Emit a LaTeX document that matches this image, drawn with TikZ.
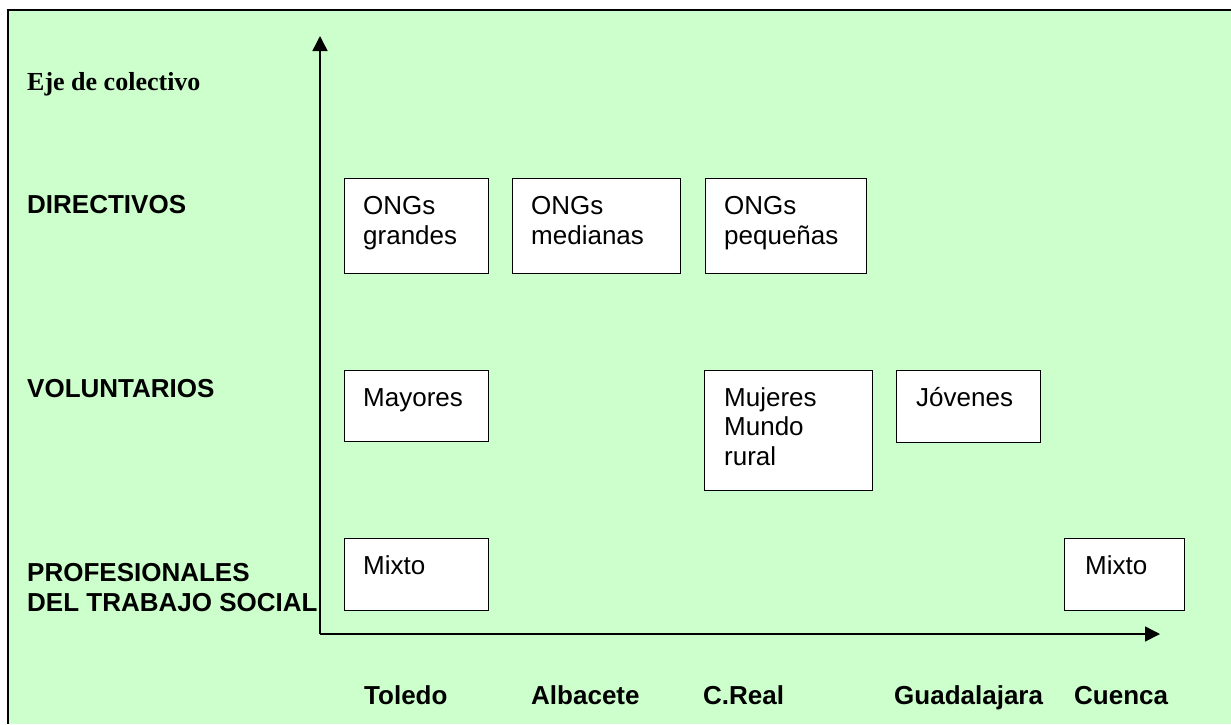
\documentclass[tikz,border=0pt]{standalone}
\usepackage{fontspec}
\setmainfont{Liberation Serif}
\setsansfont{Liberation Sans}
\usetikzlibrary{arrows.meta,calc}
\definecolor{verdefondo}{RGB}{204,255,204}
\begin{document}
\begin{tikzpicture}[x=1pt,y=-1pt,
  caja/.style={draw=black,fill=white,line width=1.3pt,inner sep=0pt,anchor=north west},
  texto/.style={anchor=base west,inner sep=0pt,align=left,font=\sffamily\fontsize{26}{29.5}\selectfont},
  rotulo/.style={anchor=base west,inner sep=0pt,align=left,font=\sffamily\bfseries\fontsize{26}{29.5}\selectfont},
  eje/.style={line width=1.5pt,-{Triangle[width=15pt,length=15pt]}}]
\useasboundingbox (0,0) rectangle (1231,724);
% fondo y marco
\fill [verdefondo] (8,10) rectangle (1231,724);
\draw [line width=2pt] (8,724) -- (8,10) -- (1231,10);
% ejes
\coordinate (origen) at (320,634);
\coordinate (arriba) at (320,36);
\coordinate (derecha) at (1160,634);
\draw [eje] (origen) -- (arriba);
\draw [eje] (origen) -- (derecha);
% colectivos (base = ultima linea)
\node [anchor=base west,inner sep=0pt,font=\rmfamily\bfseries\fontsize{26}{30}\selectfont] (ejecol) at (27,90) {Eje de colectivo};
\node [rotulo] (directivos) at (27,213) {DIRECTIVOS};
\node [rotulo] (voluntarios) at (27,397) {VOLUNTARIOS};
\node [rotulo] (profesionales) at (27,611) {PROFESIONALES\\DEL TRABAJO SOCIAL};
% provincias
\node [rotulo] (toledo) at (364,704) {Toledo};
\node [rotulo] (albacete) at (531,704) {Albacete};
\node [rotulo] (creal) at (703,704) {C.Real};
\node [rotulo] (guadalajara) at (894,704) {Guadalajara};
\node [rotulo] (cuenca) at (1074,704) {Cuenca};
% cajas
\node [caja,minimum width=144pt,minimum height=95pt] (grandes) at (344,178) {};
\node [caja,minimum width=168pt,minimum height=95pt] (medianas) at (512,178) {};
\node [caja,minimum width=161pt,minimum height=95pt] (pequenas) at (705,178) {};
\node [caja,minimum width=144pt,minimum height=71pt] (mayores) at (344,370) {};
\node [caja,minimum width=168pt,minimum height=120pt] (mujeres) at (704,370) {};
\node [caja,minimum width=144pt,minimum height=72pt] (jovenes) at (896,370) {};
\node [caja,minimum width=144pt,minimum height=72pt] (mixtoa) at (344,538) {};
\node [caja,minimum width=120pt,minimum height=72pt] (mixtob) at (1064,538) {};
\node [texto] (tgrandes) at ($(grandes.north west)+(19,66)$) {ONGs\\grandes};
\node [texto] (tmedianas) at ($(medianas.north west)+(19,66)$) {ONGs\\medianas};
\node [texto] (tpequenas) at ($(pequenas.north west)+(19,66)$) {ONGs\\pequeñas};
\node [texto] (tmayores) at ($(mayores.north west)+(19,36)$) {Mayores};
\node [texto] (tmujeres) at ($(mujeres.north west)+(20,95)$) {Mujeres\\Mundo\\rural};
\node [texto] (tjovenes) at ($(jovenes.north west)+(20,36)$) {Jóvenes};
\node [texto] (tmixtoa) at ($(mixtoa.north west)+(19,36)$) {Mixto};
\node [texto] (tmixtob) at ($(mixtob.north west)+(21,36)$) {Mixto};
\end{tikzpicture}
\end{document}
